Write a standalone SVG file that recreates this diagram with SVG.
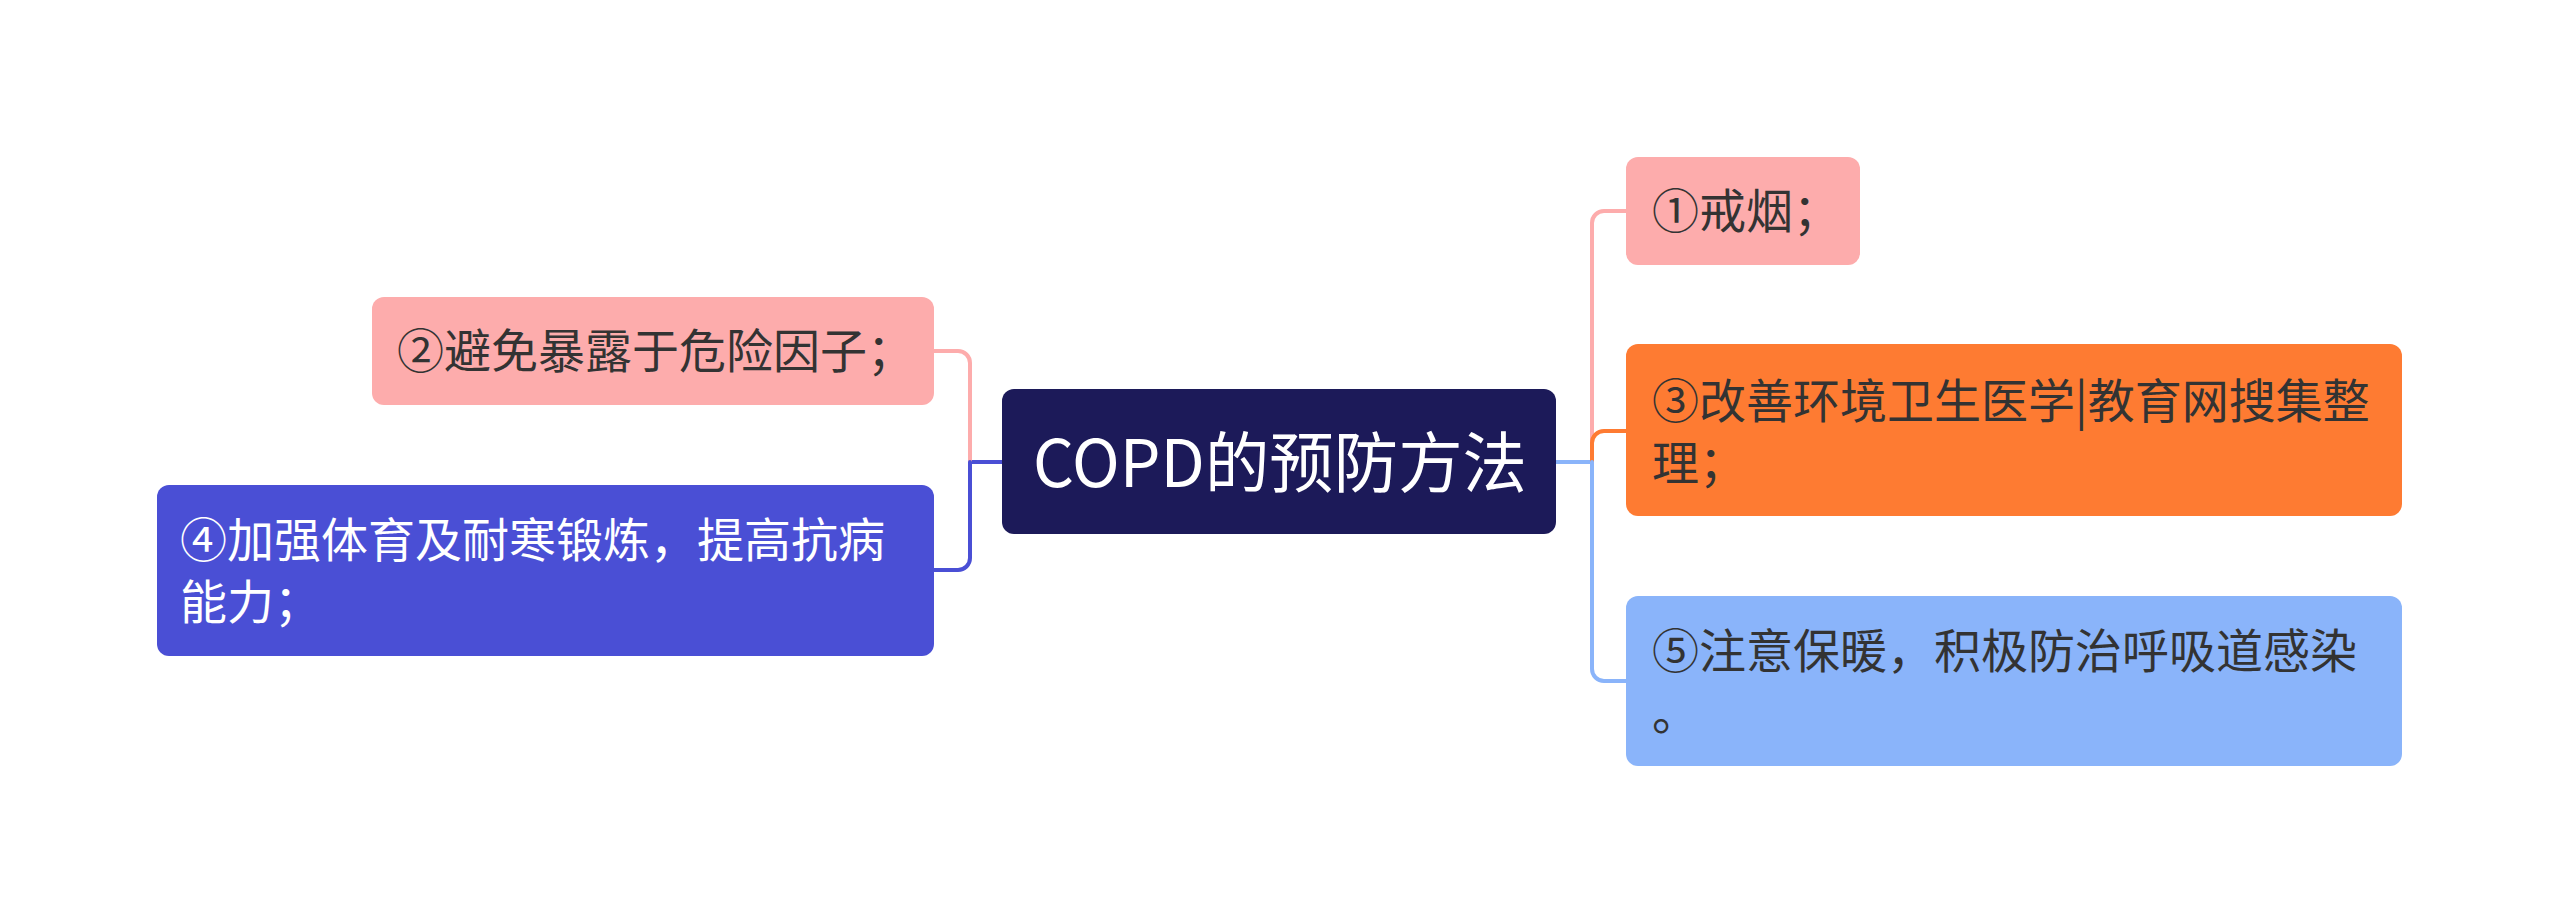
<svg xmlns="http://www.w3.org/2000/svg" width="2560" height="924" viewBox="0 0 2560 924">
<style>
.t{font-family:"Noto Sans CJK SC","Noto Sans",sans-serif;font-size:47px;fill:#333333}
.w{fill:#ffffff}
.c{fill:none;stroke-width:4;stroke-linecap:round;stroke-linejoin:round}
</style>
<rect x="0" y="0" width="2560" height="924" fill="#ffffff"/>
<g id="connectors">
<path class="c" stroke="#8AB4FA" d="M1556,462 H1592"/>
<path class="c" stroke="#FDACAC" d="M1592,462 V223 A12,12 0 0 1 1604,211 H1626"/>
<path class="c" stroke="#FE7B32" d="M1592,462 V443 A12,12 0 0 1 1604,431 H1626"/>
<path class="c" stroke="#8AB4FA" d="M1592,462 V669 A12,12 0 0 0 1604,681 H1626"/>
<path class="c" stroke="#4A4FD5" d="M1002,462 H970"/>
<path class="c" stroke="#FDACAC" d="M970,462 V363 A12,12 0 0 0 958,351 H934"/>
<path class="c" stroke="#4A4FD5" d="M970,462 V558 A12,12 0 0 1 958,570 H934"/>
</g>
<g id="center">
<rect x="1002" y="389" width="554" height="145" rx="12" fill="#1C1A59"/>
<text class="t w" x="1033" y="487" style="font-size:66px" textLength="494" lengthAdjust="spacingAndGlyphs">COPD的预防方法</text>
</g>
<g id="n1">
<rect x="1626" y="157" width="234" height="108" rx="12" fill="#FDACAC"/>
<text class="t" x="1652" y="228">①戒烟；</text>
</g>
<g id="n3">
<rect x="1626" y="344" width="776" height="172" rx="12" fill="#FE7B32"/>
<text class="t" x="1652" y="418">③改善环境卫生医学|教育网搜集整</text>
<text class="t" x="1652" y="480">理；</text>
</g>
<g id="n5">
<rect x="1626" y="596" width="776" height="170" rx="12" fill="#8AB4FA"/>
<text class="t" x="1652" y="668">⑤注意保暖，积极防治呼吸道感染</text>
<text class="t" x="1652" y="730">。</text>
</g>
<g id="n2">
<rect x="372" y="297" width="562" height="108" rx="12" fill="#FDACAC"/>
<text class="t" x="397" y="368">②避免暴露于危险因子；</text>
</g>
<g id="n4">
<rect x="157" y="485" width="777" height="171" rx="12" fill="#4A4FD5"/>
<text class="t w" x="180" y="557">④加强体育及耐寒锻炼，提高抗病</text>
<text class="t w" x="180" y="619">能力；</text>
</g>
</svg>
